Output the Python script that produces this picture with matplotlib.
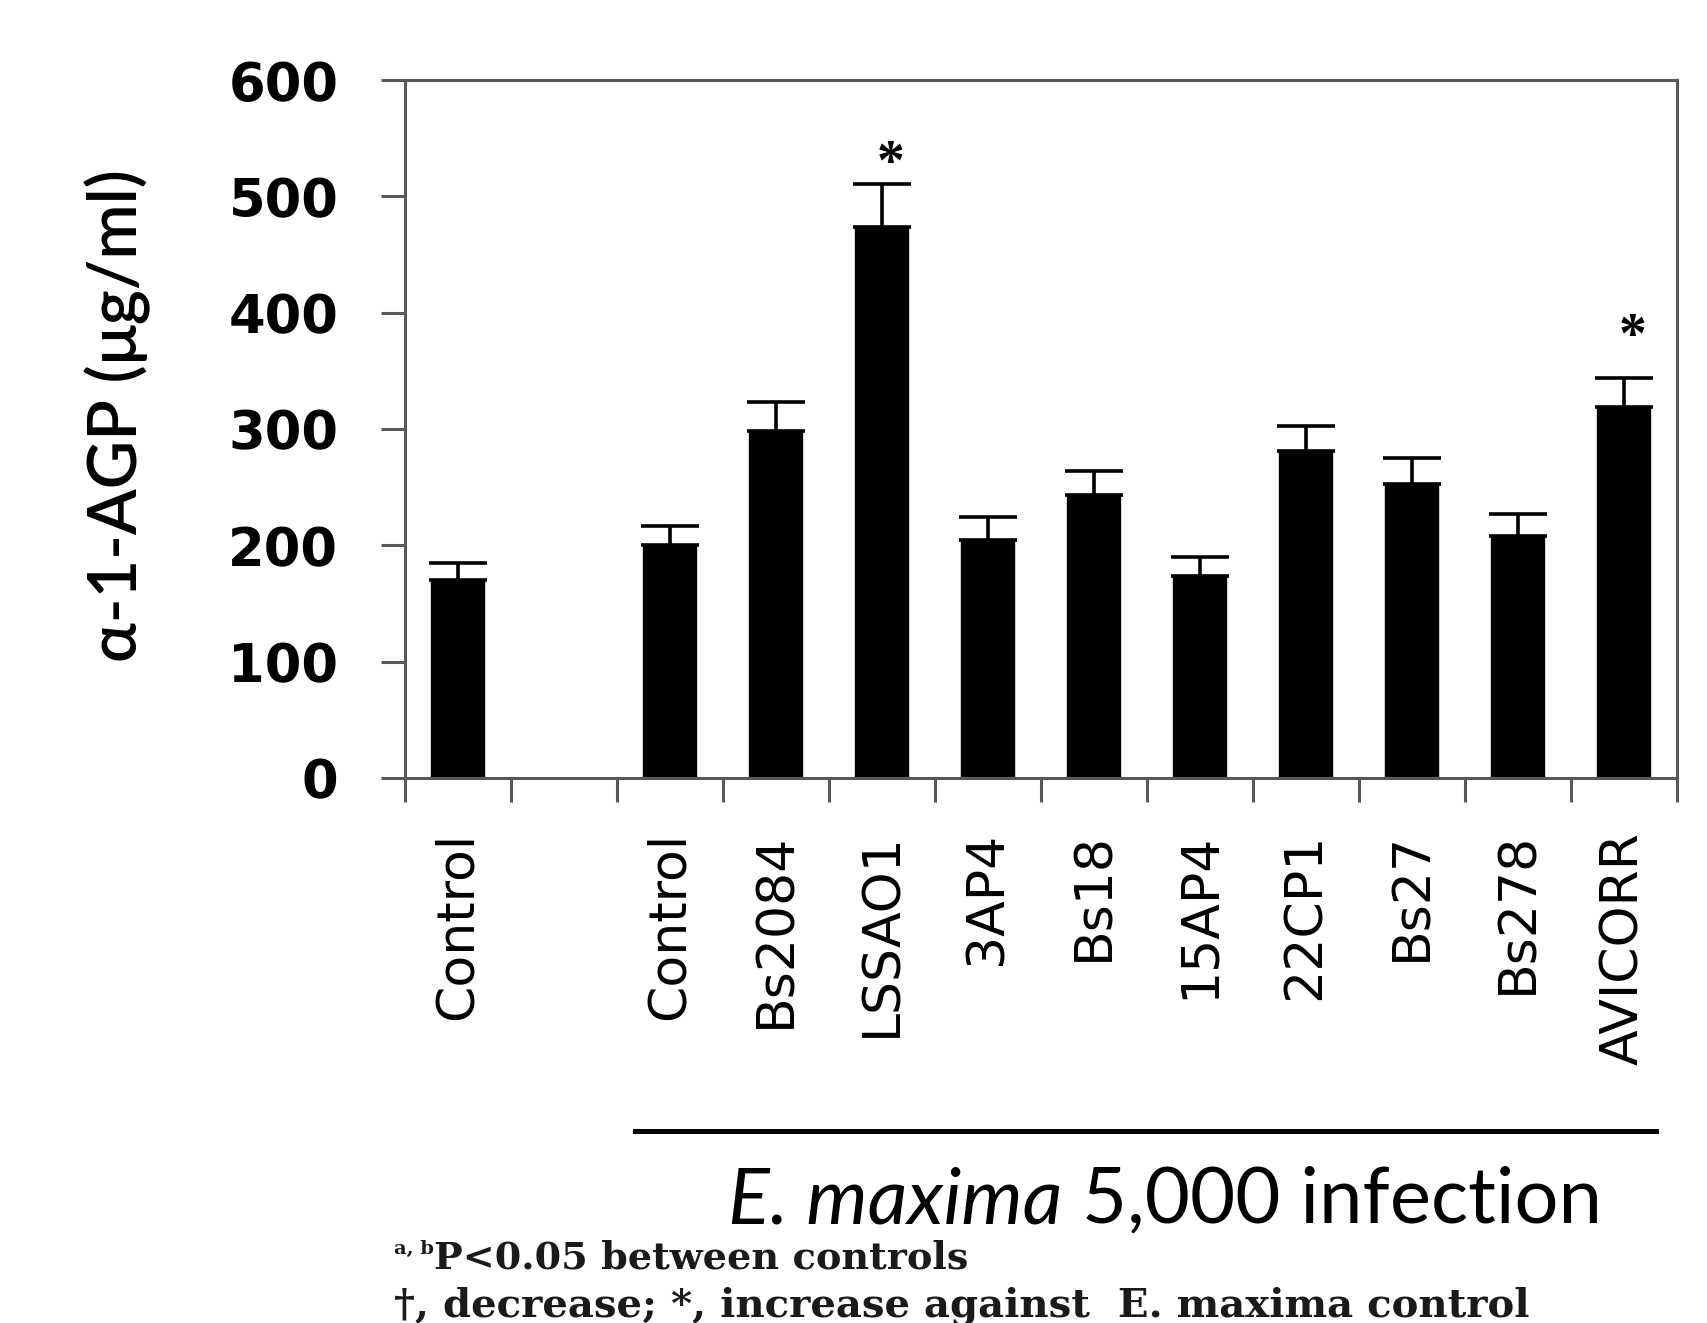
import matplotlib
matplotlib.use("Agg")
import matplotlib.pyplot as plt
import matplotlib.transforms as mtransforms
import numpy as np

# valeurs
categories = ["Control", "", "Control", "Bs2084", "LSSAO1", "3AP4", "Bs18",
              "15AP4", "22CP1", "Bs27", "Bs278", "AVICORR"]
means = [170, np.nan, 200, 298, 474, 205, 243, 174, 281, 253, 208, 319]
errors = [15, np.nan, 17, 25, 37, 19, 21, 16, 22, 22, 19, 25]
star_idx = [4, 11]
star_y = [527, 378]
y_ticks = [0, 100, 200, 300, 400, 500, 600]

grey = "#595959"

fig = plt.figure(figsize=(17.08, 13.23), dpi=100)
ax = fig.add_axes([0.2371, 0.4119, 0.7447, 0.5276])

x = np.arange(len(categories))
ax.bar(x, means, width=0.5, color="black", edgecolor="black", zorder=2)
ax.errorbar(x, means, yerr=[np.zeros(len(errors)), errors], fmt="none",
            ecolor="black", elinewidth=2.6, capsize=21, capthick=2.6, zorder=1)

for i, yv in zip(star_idx, star_y):
    ax.text(x[i] + 0.08, yv, "*", ha="center", va="center", fontsize=40,
            family="Liberation Serif", fontweight="bold")

ax.set_xlim(-0.5, len(categories) - 0.5)
ax.set_ylim(0, 600)
ax.set_yticks(y_ticks)
ax.set_yticklabels([str(v) for v in y_ticks], fontsize=38, fontweight="bold")

# ticks aux frontières, étiquettes au centre
ax.set_xticks(np.arange(-0.5, len(categories), 1.0))
ax.set_xticklabels([])
ax.set_xticks(x, minor=True)
ax.set_xticklabels(categories, minor=True, rotation=90, fontsize=37.5,
                   va="top", ha="center")
ax.tick_params(axis="x", which="minor", length=0, pad=39)
ax.tick_params(axis="x", which="major", length=17, width=2.2, color=grey)
ax.tick_params(axis="y", length=17, width=2.2, color=grey, pad=31)

for s in ax.spines.values():
    s.set_color(grey)
    s.set_linewidth(2.2)

ax.set_ylabel("α-1-AGP (μg/ml)", fontsize=48, family="Lato", fontweight="semibold")
ax.yaxis.set_label_coords(-0.2, 0.52)

# barre de groupe
trans = mtransforms.blended_transform_factory(ax.transData, ax.transAxes)
ax.plot([1.67, 11.3], [-0.506, -0.506], color="black", lw=3.6,
        transform=trans, clip_on=False)
fig.text(1062 / 1708, 1 - 1201 / 1323, "E. maxima", ha="right", va="center",
         fontsize=56, family="Lato", style="italic")
fig.text(1082 / 1708, 1 - 1201 / 1323, "5,000 infection", ha="left", va="center",
         fontsize=56, family="Lato")

# notes
fig.text(394 / 1708, 1 - 1249 / 1323, "a, b", fontsize=14, family="DejaVu Serif",
         fontweight="bold", va="center", ha="left", color="#1a1a1a")
fig.text(434 / 1708, 1 - 1258 / 1323, "P<0.05 between controls", fontsize=27.5,
         family="DejaVu Serif", fontweight="bold", va="center", ha="left",
         color="#1a1a1a")
fig.text(394 / 1708, 1 - 1306 / 1323,
         "†, decrease; *, increase against  E. maxima control", fontsize=29,
         family="DejaVu Serif", fontweight="bold", va="center", ha="left",
         color="#1a1a1a")

fig.savefig("out.png", dpi=100)
